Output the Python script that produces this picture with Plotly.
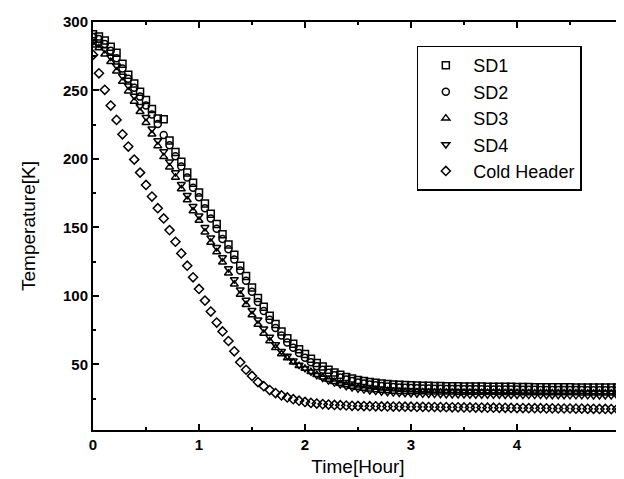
import plotly.graph_objects as go

time_h = [0, 0.056, 0.111, 0.167, 0.222, 0.278, 0.333, 0.389, 0.444, 0.5, 0.556, 0.611, 0.667, 0.722, 0.778, 0.833, 0.889, 0.944, 1.0,
          1.056, 1.111, 1.167, 1.222, 1.278, 1.333, 1.389, 1.444, 1.5, 1.556, 1.611, 1.667, 1.722, 1.778, 1.833, 1.889, 1.944, 2.0,
          2.056, 2.111, 2.167, 2.222, 2.278, 2.333, 2.389, 2.444, 2.5, 2.556, 2.611, 2.667, 2.722, 2.778, 2.833, 2.889, 2.944, 3.0,
          3.056, 3.111, 3.167, 3.222, 3.278, 3.333, 3.389, 3.444, 3.5, 3.556, 3.611, 3.667, 3.722, 3.778, 3.833, 3.889, 3.944, 4.0,
          4.056, 4.111, 4.167, 4.222, 4.278, 4.333, 4.389, 4.444, 4.5, 4.556, 4.611, 4.667, 4.722, 4.778, 4.833, 4.889, 4.944, 5.0]

sd1 = [291, 289.5, 286.5, 282, 277.5, 269.5, 261.5, 255, 249, 243, 236.5, 229.5, 229, 213.5, 205, 198, 190, 182.5, 175.5,
       167.5, 160, 152.5, 145, 137.5, 130, 122, 114.5, 106, 98.5, 92, 85.5, 79.5, 74, 69, 65, 61, 57.5,
       54, 51, 48.3, 46, 44, 42.3, 40.8, 39.6, 38.6, 37.8, 37.1, 36.5, 36, 35.6, 35.3, 35.0, 34.8, 34.6,
       34.5, 34.4, 34.3, 34.2, 34.1, 34.0, 34.0, 33.9, 33.8, 33.8, 33.7, 33.7, 33.6, 33.6, 33.5, 33.5, 33.5, 33.4,
       33.4, 33.4, 33.3, 33.3, 33.3, 33.2, 33.2, 33.2, 33.2, 33.1, 33.1, 33.1, 33.1, 33.0, 33.0, 33.0, 33.0, 33.0]

sd2 = [289, 287.5, 284, 279, 273.5, 266, 258.5, 252, 245.5, 239, 232.5, 225.5, 217.5, 210, 202, 194.5, 186.5, 179, 172,
       164, 156.5, 149, 141.5, 134, 126.5, 118.5, 111, 103, 95.5, 89, 82.5, 76.5, 71, 66, 62, 58.2, 54.8,
       51.5, 48.6, 46, 43.8, 41.9, 40.3, 38.9, 37.7, 36.7, 35.9, 35.2, 34.6, 34.1, 33.7, 33.4, 33.1, 32.9, 32.7,
       32.5, 32.4, 32.3, 32.2, 32.1, 32.0, 31.9, 31.9, 31.8, 31.8, 31.7, 31.7, 31.6, 31.6, 31.6, 31.5, 31.5, 31.5,
       31.4, 31.4, 31.4, 31.3, 31.3, 31.3, 31.3, 31.2, 31.2, 31.2, 31.2, 31.1, 31.1, 31.1, 31.1, 31.0, 31.0, 31.0]

sd3 = [283, 281, 276.5, 271, 264, 256.5, 249.5, 242, 234.5, 226.5, 218, 209.5, 201.5, 194, 186.5, 178, 170, 162, 155,
       146.5, 139, 132, 124.5, 116.5, 108.5, 101, 93.5, 86, 79, 72.5, 67, 62, 57.5, 54.5, 51.5, 49, 47,
       44.5, 42.3, 40.5, 38.8, 37.3, 36, 34.8, 33.8, 33, 32.3, 31.7, 31.2, 30.8, 30.5, 30.2, 30.0, 29.9, 29.8,
       29.7, 29.7, 29.6, 29.6, 29.5, 29.5, 29.5, 29.4, 29.4, 29.4, 29.3, 29.3, 29.3, 29.3, 29.2, 29.2, 29.2, 29.2,
       29.1, 29.1, 29.1, 29.1, 29.1, 29.0, 29.0, 29.0, 29.0, 29.0, 28.9, 28.9, 28.9, 28.9, 28.9, 28.8, 28.8, 28.8]

sd4 = [286, 284, 280, 274.5, 268, 260.5, 253.5, 246, 238.5, 230.5, 222, 213.5, 205.5, 198, 190, 181.5, 173.5, 165.5, 158.5,
       150, 142.5, 135.5, 128, 120, 112, 104.5, 97, 89.5, 82.5, 76, 70, 64.5, 59.5, 56, 52.5, 49.5, 47,
       44.5, 42, 40, 38.2, 36.6, 35.2, 34, 33, 32.2, 31.5, 30.9, 30.4, 30, 29.6, 29.3, 29.0, 28.8, 28.6,
       28.5, 28.4, 28.3, 28.2, 28.1, 28.0, 28.0, 27.9, 27.9, 27.8, 27.8, 27.8, 27.7, 27.7, 27.7, 27.6, 27.6, 27.6,
       27.5, 27.5, 27.5, 27.5, 27.4, 27.4, 27.4, 27.4, 27.3, 27.3, 27.3, 27.3, 27.2, 27.2, 27.2, 27.2, 27.1, 27.1]

cold_header = [276, 262.5, 250.5, 239, 228.5, 218, 209, 199.5, 190, 181, 172.5, 164, 156.5, 148, 139.5, 131, 122, 113.5, 105,
               96.5, 88.5, 80.5, 74, 67, 59.5, 51.5, 46, 41.5, 37, 34, 31.2, 29, 27.3, 25.8, 24.5, 23.4, 22.5,
               21.8, 21.3, 20.9, 20.6, 20.3, 20.1, 19.9, 19.7, 19.6, 19.5, 19.4, 19.3, 19.2, 19.2, 19.1, 19.1, 19.0, 19.0,
               18.9, 18.9, 18.8, 18.8, 18.7, 18.7, 18.6, 18.6, 18.5, 18.5, 18.4, 18.4, 18.3, 18.3, 18.2, 18.2, 18.1, 18.0,
               18.0, 17.9, 17.9, 17.9, 17.8, 17.8, 17.7, 17.7, 17.7, 17.6, 17.6, 17.5, 17.5, 17.4, 17.4, 17.3, 17.3, 17.2]

series_names = ["SD1", "SD2", "SD3", "SD4", "Cold Header"]
series_values = [sd1, sd2, sd3, sd4, cold_header]
symbols = ["square-open", "circle-open", "triangle-up-open", "triangle-down-open", "diamond-open"]

FONT = "Liberation Sans, Arial, sans-serif"

fig = go.Figure()
for name, vals, sym in zip(series_names, series_values, symbols):
    fig.add_trace(go.Scatter(
        x=time_h, y=vals, mode="markers", name=name,
        marker=dict(symbol=sym, size=7, color="black", line=dict(color="black", width=1.5)),
    ))

axis_common = dict(
    showline=True, linecolor="black", linewidth=2, mirror="allticks",
    ticks="inside", ticklen=6, tickwidth=1.5, tickcolor="black",
    showgrid=False, zeroline=False,
    tickfont=dict(family=FONT, size=15, color="black", weight="bold"),
)

fig.update_layout(
    width=624, height=479,
    margin=dict(l=85, r=5, t=12, b=57),
    paper_bgcolor="white", plot_bgcolor="white",
    xaxis=dict(range=[0, 5], dtick=1, tick0=0,
               minor=dict(ticks="inside", ticklen=3, dtick=0.5, tickcolor="black"),
               title=dict(text="Time[Hour]", font=dict(family=FONT, size=19, color="black"), standoff=8),
               **axis_common),
    yaxis=dict(range=[2, 300], tickvals=[50, 100, 150, 200, 250, 300],
               minor=dict(ticks="inside", ticklen=3, tickvals=[25, 75, 125, 175, 225, 275], tickcolor="black"),
               title=dict(text="Temperature[K]", font=dict(family=FONT, size=19, color="black"), standoff=22),
               **axis_common),
    legend=dict(x=0.611, y=0.942, xanchor="left", yanchor="top",
                bordercolor="black", borderwidth=1.5, bgcolor="white",
                itemwidth=45,
                font=dict(family=FONT, size=18, color="black")),
    showlegend=True,
)

fig.write_html("out.html")
